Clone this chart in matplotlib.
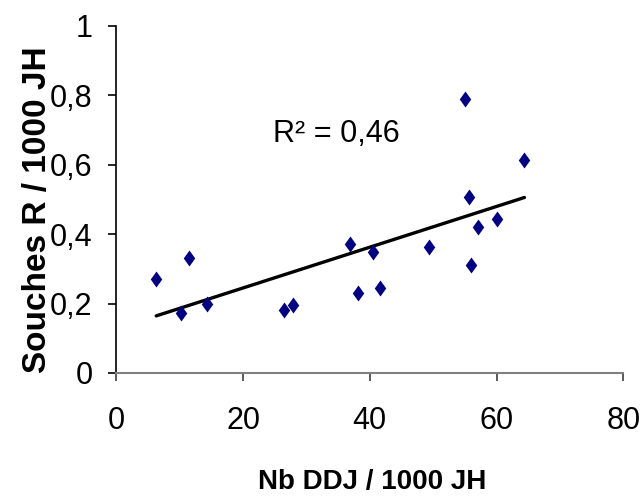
import numpy as np
import matplotlib
matplotlib.use("Agg")
import matplotlib.pyplot as plt
from matplotlib.path import Path

# Data
nb_ddj = [6.3, 10.2, 11.5, 14.3, 26.5, 27.9, 36.9, 38.2, 40.5, 41.6,
          49.4, 55.0, 55.7, 56.0, 57.1, 60.1, 64.4]
souches_r = [0.270, 0.173, 0.332, 0.198, 0.181, 0.195, 0.371, 0.231, 0.348, 0.246,
             0.364, 0.788, 0.507, 0.311, 0.419, 0.444, 0.613]
x_ticks = [0, 20, 40, 60, 80]
y_ticks = [0, 0.2, 0.4, 0.6, 0.8, 1]
y_tick_labels = ["0", "0,2", "0,4", "0,6", "0,8", "1"]
r2_label = "R² = 0,46"

plt.rcParams["font.family"] = ["Liberation Sans", "DejaVu Sans"]

fig = plt.figure(figsize=(6.4, 4.96), dpi=100)
ax = fig.add_axes([116.3 / 640, 1 - 373 / 496, (623.3 - 116.3) / 640, (373 - 25.7) / 496])

diamond = Path([(0, 1), (0.72, 0), (0, -1), (-0.72, 0), (0, 1)],
               [Path.MOVETO, Path.LINETO, Path.LINETO, Path.LINETO, Path.CLOSEPOLY])
ax.plot(nb_ddj, souches_r, linestyle="none", marker=diamond, markersize=11.5,
        color="#000080", markeredgewidth=0, zorder=3)

xs = np.array(nb_ddj)
coef = np.polyfit(xs, souches_r, 1)
xl = np.array([xs.min(), xs.max()])
ax.plot(xl, np.polyval(coef, xl), color="black", linewidth=2.4,
        solid_capstyle="round", zorder=2)

ax.set_xlim(0, 80)
ax.set_ylim(0, 1)
ax.set_xticks(x_ticks)
ax.set_yticks(y_ticks)
ax.set_yticklabels(y_tick_labels)

for s in ["top", "right"]:
    ax.spines[s].set_visible(False)
ax.spines["left"].set_color("black")
ax.spines["bottom"].set_color("#808080")
ax.spines["left"].set_linewidth(1.2)
ax.spines["bottom"].set_linewidth(1.5)
ax.tick_params(axis="x", direction="out", length=6, width=1.2, color="#404040",
               labelsize=22, pad=18)
ax.tick_params(axis="y", direction="out", length=6, width=1.2, color="black",
               labelsize=22, pad=11)

ax.set_xlabel("Nb DDJ / 1000 JH", fontsize=20, fontweight="bold")
ax.xaxis.set_label_coords(0.504, -0.276)
ax.set_ylabel("Souches R / 1000 JH", fontsize=24, fontweight="bold")
ax.yaxis.set_label_coords(-0.125, 0.469)

ax.text(0.31, 0.665, r2_label, transform=ax.transAxes,
        fontsize=22, ha="left", va="baseline")

fig.savefig("out.png", dpi=100)
